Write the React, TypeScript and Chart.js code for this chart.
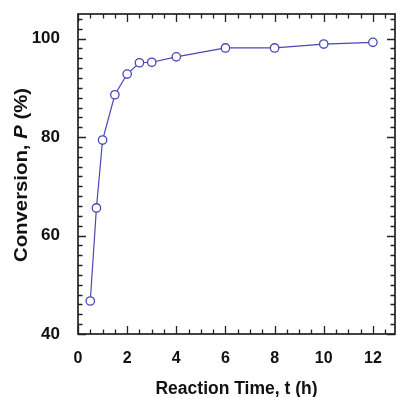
import React, { useEffect, useRef } from "react";
import { Chart, registerables } from "chart.js";

Chart.register(...registerables);

// ---- data ----
const reactionTime = [0.5, 0.75, 1, 1.5, 2, 2.5, 3, 4, 6, 8, 10, 12];
const conversion = [46.7, 65.6, 79.4, 88.6, 92.8, 95.1, 95.2, 96.3, 98.1, 98.1, 98.9, 99.25];
const xTickValues = [0, 2, 4, 6, 8, 10, 12];
const yTickValues = [40, 60, 80, 100];
const xMinorStep = 0.5;
const yMinorStep = 2;
const xTitle = "Reaction Time, t (h)";
const yTitleParts = [
  { text: "Conversion, ", italic: false },
  { text: "P", italic: true },
  { text: " (%)", italic: false },
];

const X_MIN = 0;
const X_MAX = 12.9;
const Y_MIN = 40;
const Y_MAX = 105;

const FONT = '"Liberation Sans", Arial, Helvetica, sans-serif';
const SERIES_COLOR = "rgb(72,72,180)";
const AXIS_COLOR = "#222";

const framePlugin = {
  id: "frameTicksTitles",
  beforeDatasetsDraw(chart: any) {
    const { ctx, chartArea: a, scales } = chart;
    const xs = scales.x;
    const ys = scales.y;
    ctx.save();
    ctx.strokeStyle = AXIS_COLOR;
    ctx.lineWidth = 1.3;
    ctx.beginPath();
    for (let v = X_MIN; v <= X_MAX + 1e-9; v += xMinorStep) {
      const px = Math.round(xs.getPixelForValue(v)) + 0.5;
      const major = xTickValues.includes(v);
      const len = major ? 8 : 4.5;
      ctx.moveTo(px, a.bottom);
      ctx.lineTo(px, a.bottom - len);
      ctx.moveTo(px, a.top);
      ctx.lineTo(px, a.top + len);
    }
    for (let v = Y_MIN; v <= Y_MAX + 1e-9; v += yMinorStep) {
      const py = Math.round(ys.getPixelForValue(v)) + 0.5;
      const major = yTickValues.includes(v);
      const len = major ? 8 : 4.5;
      ctx.moveTo(a.left, py);
      ctx.lineTo(a.left + len, py);
      ctx.moveTo(a.right, py);
      ctx.lineTo(a.right - len, py);
    }
    ctx.stroke();
    ctx.lineWidth = 1.7;
    ctx.strokeRect(a.left, a.top, a.right - a.left, a.bottom - a.top);
    ctx.restore();
  },
  afterDraw(chart: any) {
    const { ctx, chartArea: a } = chart;
    ctx.save();
    ctx.fillStyle = "#111";
    ctx.font = `bold 17.5px ${FONT}`;
    ctx.textAlign = "center";
    ctx.textBaseline = "alphabetic";
    ctx.fillText(xTitle, (a.left + a.right) / 2, 394);
    const size = 18;
    const fontFor = (it: boolean) => `${it ? "italic " : ""}bold ${size}px ${FONT}`;
    let total = 0;
    const widths = yTitleParts.map((p) => {
      ctx.font = fontFor(p.italic);
      const w = ctx.measureText(p.text).width;
      total += w;
      return w;
    });
    ctx.translate(26.7, (a.top + a.bottom) / 2 + 1);
    ctx.rotate(-Math.PI / 2);
    ctx.scale(1.13, 1);
    ctx.textAlign = "left";
    let x = -total / 2;
    yTitleParts.forEach((p, i) => {
      ctx.font = fontFor(p.italic);
      ctx.fillText(p.text, x, 0);
      x += widths[i];
    });
    ctx.restore();
  },
};

export default function App() {
  const canvasRef = useRef<HTMLCanvasElement | null>(null);

  useEffect(() => {
    if (!canvasRef.current) return;
    const chart = new Chart(canvasRef.current, {
      type: "scatter",
      data: {
        datasets: [
          {
            data: reactionTime.map((t, i) => ({ x: t, y: conversion[i] })),
            showLine: true,
            borderColor: SERIES_COLOR,
            borderWidth: 1.2,
            pointRadius: 4.2,
            pointBorderWidth: 1.3,
            pointBackgroundColor: "#fff",
            pointBorderColor: SERIES_COLOR,
            tension: 0,
          },
        ],
      },
      options: {
        responsive: false,
        animation: false,
        devicePixelRatio: 1,
        layout: { autoPadding: false, padding: { top: 14, right: 2, left: 0, bottom: 0 } },
        plugins: {
          legend: { display: false },
          tooltip: { enabled: false },
          title: { display: false },
        },
        scales: {
          x: {
            type: "linear",
            min: X_MIN,
            max: X_MAX,
            grid: { display: false },
            border: { display: false },
            afterBuildTicks: (s: any) => {
              s.ticks = xTickValues.map((v) => ({ value: v }));
            },
            afterFit: (s: any) => {
              s.height = 63;
              s.paddingLeft = 0;
              s.paddingRight = 0;
            },
            ticks: {
              autoSkip: false,
              maxRotation: 0,
              padding: 7,
              color: "#111",
              font: { family: FONT, size: 16, weight: "bold" },
            },
          },
          y: {
            type: "linear",
            min: Y_MIN,
            max: Y_MAX,
            grid: { display: false },
            border: { display: false },
            afterBuildTicks: (s: any) => {
              s.ticks = yTickValues.map((v) => ({ value: v }));
            },
            afterFit: (s: any) => {
              s.width = 78;
              s.paddingTop = 0;
              s.paddingBottom = 0;
            },
            ticks: {
              autoSkip: false,
              padding: 10,
              color: "#111",
              font: { family: FONT, size: 17, weight: "bold" },
            },
          },
        },
      },
      plugins: [framePlugin],
    } as any);
    return () => chart.destroy();
  }, []);

  return (
    <div style={{ position: "fixed", left: 0, top: 0, width: 397, height: 397, background: "#fff" }}>
      <canvas ref={canvasRef} width={397} height={397} style={{ display: "block" }} />
    </div>
  );
}
